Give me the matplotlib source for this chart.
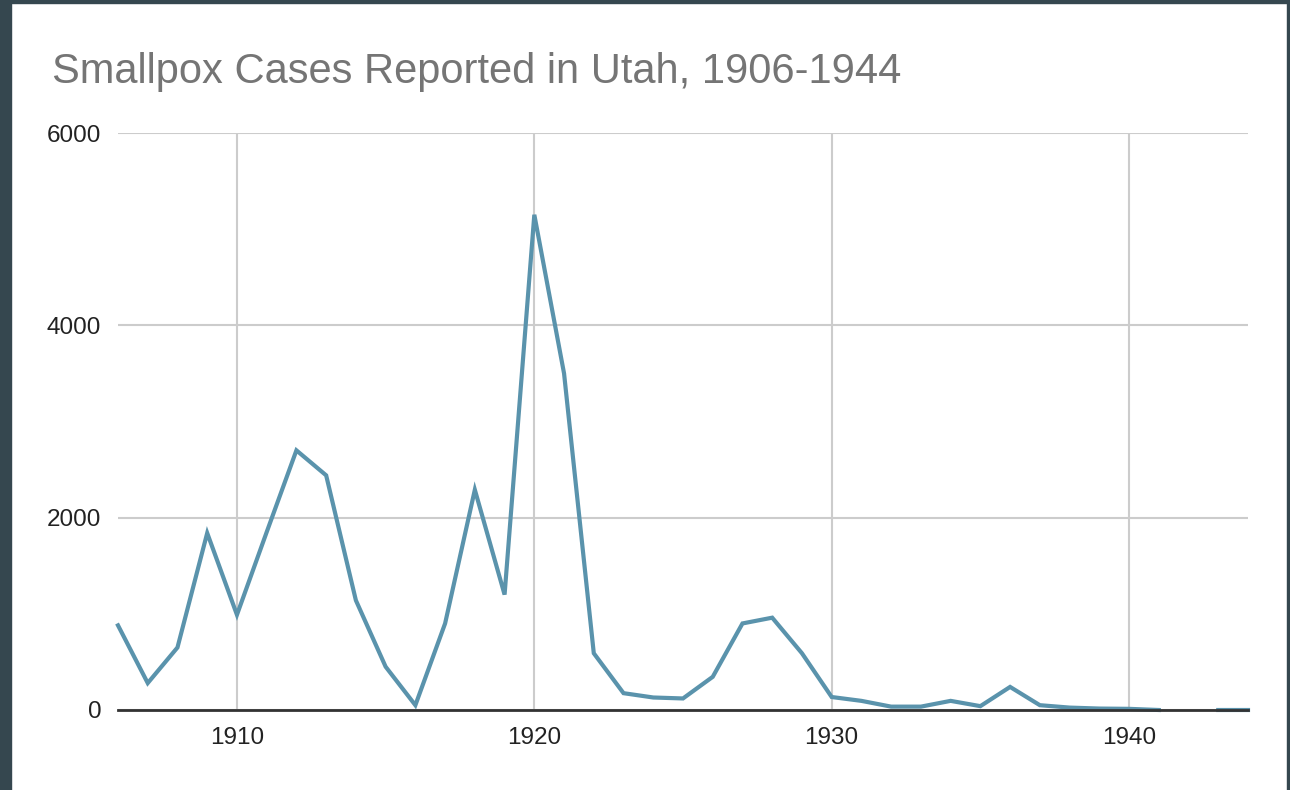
import numpy as np
import matplotlib.pyplot as plt
from matplotlib.patches import Rectangle

plt.rcParams['font.family'] = ['Liberation Sans', 'DejaVu Sans']

# smallpox cases per year (1942 missing)
years = list(range(1906, 1945))
cases = [880, 280, 650, 1840, 990, 1850, 2700, 2440, 1140, 450,
         50, 900, 2290, 1200, 5150, 3500, 590, 175, 130, 120,
         345, 900, 960, 590, 135, 95, 35, 35, 95, 40,
         240, 50, 25, 15, 12, 0, np.nan, 0, 0]
yticks = [0, 2000, 4000, 6000]
xticks = [1910, 1920, 1930, 1940]

fig = plt.figure(figsize=(12.9, 7.9), dpi=100)
fig.patch.set_facecolor('white')

# dark frame around the sheet
frame = '#35474f'
fig.patches.append(Rectangle((0, 0), 11 / 1290, 1, transform=fig.transFigure, color=frame, zorder=0))
fig.patches.append(Rectangle((0, 1 - 3 / 790), 1, 3 / 790, transform=fig.transFigure, color=frame, zorder=0))
fig.patches.append(Rectangle((1 - 3 / 1290, 0), 3 / 1290, 1, transform=fig.transFigure, color=frame, zorder=0))

ax = fig.add_axes([118 / 1290, 1 - 710 / 790, (1248 - 118) / 1290, (710 - 133) / 790])
ax.plot(years, cases, color='#5a93ac', lw=3, solid_joinstyle='miter', clip_on=False)

ax.set_xlim(1906, 1944)
ax.set_ylim(0, 6000)
ax.set_xticks(xticks)
ax.set_yticks(yticks)
ax.tick_params(length=0, labelsize=17.5, labelcolor='#222222')
ax.tick_params(axis='y', pad=12)
ax.tick_params(axis='x', pad=12)
ax.grid(True, color='#cccccc', lw=1.5)
ax.set_axisbelow(True)
for s in ['top', 'right', 'left']:
    ax.spines[s].set_visible(False)
ax.spines['bottom'].set_color('#333333')
ax.spines['bottom'].set_linewidth(2)

fig.text(52 / 1290, 1 - 83 / 790, 'Smallpox Cases Reported in Utah, 1906-1944',
         fontsize=30, color='#757575')

fig.savefig('out.png', dpi=100)
